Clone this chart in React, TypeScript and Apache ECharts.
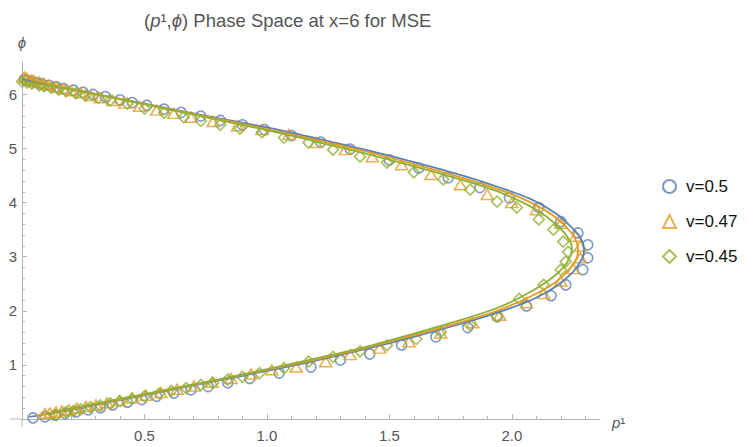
import React, { useEffect, useRef } from 'react';
import * as echarts from 'echarts';

const seriesNames = ['v=0.5', 'v=0.47', 'v=0.45'];
const seriesColors = ['#5E81B5', '#E19C24', '#8FB032'];
const seriesSymbols = ['circle', 'triangle', 'diamond'];

// solid curves (p1, phi)
const blueCurve: [number, number][] = [[0.03,0.04],[0.2,0.17],[0.4,0.35],[0.6,0.53],[0.8,0.71],[1.0,0.89],[1.2,1.08],[1.4,1.29],[1.6,1.52],[1.8,1.77],[1.95,1.98],[2.08,2.2],[2.18,2.45],[2.25,2.72],[2.285,2.95],[2.295,3.12],[2.28,3.35],[2.24,3.56],[2.18,3.8],[2.08,4.06],[1.95,4.28],[1.8,4.5],[1.6,4.75],[1.4,4.98],[1.2,5.19],[1.0,5.39],[0.8,5.56],[0.6,5.74],[0.4,5.92],[0.2,6.1],[0.0,6.28]];
const orangeCurve: [number, number][] = [[0.06,0.06],[0.2,0.18],[0.4,0.36],[0.6,0.54],[0.8,0.72],[1.0,0.91],[1.2,1.1],[1.4,1.31],[1.6,1.55],[1.8,1.8],[1.95,2.02],[2.07,2.25],[2.17,2.5],[2.235,2.77],[2.265,2.98],[2.27,3.14],[2.255,3.36],[2.215,3.58],[2.15,3.82],[2.05,4.06],[1.93,4.27],[1.78,4.48],[1.6,4.71],[1.4,4.95],[1.2,5.16],[1.0,5.36],[0.8,5.55],[0.6,5.73],[0.4,5.92],[0.2,6.1],[0.02,6.3]];
const greenCurve: [number, number][] = [[0.1,0.1],[0.2,0.19],[0.4,0.37],[0.6,0.55],[0.8,0.73],[1.0,0.92],[1.2,1.12],[1.4,1.33],[1.6,1.58],[1.8,1.84],[1.95,2.07],[2.06,2.31],[2.15,2.56],[2.21,2.8],[2.24,3.02],[2.245,3.17],[2.225,3.38],[2.18,3.6],[2.11,3.84],[2.01,4.08],[1.89,4.29],[1.75,4.48],[1.6,4.67],[1.4,4.91],[1.2,5.13],[1.0,5.34],[0.8,5.53],[0.6,5.72],[0.4,5.91],[0.2,6.09],[0.0,6.25]];

// sampled markers (p1, phi)
const blueMarkers: [number, number][] = [[0.045,0.02],[0.094,0.04],[0.135,0.07],[0.176,0.10],[0.22,0.13],[0.27,0.17],[0.32,0.21],[0.37,0.26],[0.43,0.31],[0.49,0.36],[0.55,0.42],[0.62,0.48],[0.69,0.54],[0.76,0.60],[0.84,0.67],[0.93,0.75],[1.05,0.85],[1.18,0.96],[1.30,1.09],[1.42,1.20],[1.55,1.37],[1.69,1.52],[1.82,1.69],[1.94,1.89],[2.06,2.09],[2.16,2.28],[2.22,2.48],[2.29,2.76],[2.31,2.98],[2.31,3.22],[2.27,3.44],[2.20,3.65],[2.11,3.91],[1.99,4.09],[1.87,4.28],[1.74,4.46],[1.62,4.64],[1.50,4.79],[1.34,4.99],[1.22,5.12],[1.10,5.24],[0.99,5.35],[0.90,5.44],[0.81,5.52],[0.73,5.60],[0.65,5.67],[0.58,5.73],[0.51,5.80],[0.45,5.85],[0.40,5.90],[0.34,5.96],[0.29,6.00],[0.25,6.04],[0.21,6.08],[0.17,6.11],[0.14,6.14],[0.11,6.17],[0.08,6.20],[0.06,6.22],[0.04,6.24],[0.02,6.26],[0.01,6.28]];
const orangeMarkers: [number, number][] = [[0.094,0.10],[0.114,0.11],[0.139,0.13],[0.163,0.15],[0.192,0.17],[0.224,0.20],[0.261,0.23],[0.302,0.26],[0.347,0.30],[0.396,0.34],[0.449,0.39],[0.506,0.44],[0.567,0.49],[0.633,0.55],[0.702,0.61],[0.776,0.68],[0.853,0.75],[0.935,0.83],[1.02,0.91],[1.12,0.96],[1.24,1.06],[1.34,1.19],[1.46,1.31],[1.58,1.43],[1.71,1.59],[1.84,1.78],[1.95,1.92],[2.06,2.15],[2.13,2.32],[2.20,2.55],[2.25,2.78],[2.28,2.98],[2.28,3.2],[2.26,3.38],[2.20,3.62],[2.10,3.87],[2.00,4.0],[1.90,4.15],[1.79,4.33],[1.67,4.52],[1.55,4.70],[1.43,4.85],[1.32,4.98],[1.20,5.11],[1.09,5.26],[0.98,5.35],[0.88,5.42],[0.78,5.50],[0.69,5.58],[0.62,5.65],[0.55,5.71],[0.48,5.78],[0.42,5.84],[0.37,5.89],[0.32,5.94],[0.28,5.98],[0.24,6.03],[0.20,6.07],[0.17,6.10],[0.14,6.14],[0.11,6.17],[0.09,6.20],[0.07,6.23],[0.05,6.25],[0.04,6.27],[0.02,6.30],[0.01,6.32]];
const greenMarkers: [number, number][] = [[0.14,0.07],[0.18,0.13],[0.21,0.15],[0.24,0.18],[0.28,0.22],[0.32,0.25],[0.36,0.29],[0.40,0.33],[0.45,0.37],[0.50,0.42],[0.56,0.47],[0.61,0.52],[0.67,0.57],[0.73,0.63],[0.78,0.67],[0.84,0.73],[0.90,0.78],[0.97,0.85],[1.07,0.94],[1.17,1.06],[1.27,1.15],[1.38,1.25],[1.49,1.36],[1.61,1.48],[1.71,1.61],[1.83,1.74],[1.94,1.90],[2.03,2.22],[2.13,2.48],[2.20,2.76],[2.22,2.91],[2.23,3.09],[2.21,3.28],[2.17,3.5],[2.11,3.69],[2.02,3.91],[1.94,4.02],[1.83,4.24],[1.72,4.43],[1.60,4.56],[1.49,4.74],[1.38,4.85],[1.27,4.98],[1.17,5.11],[1.07,5.20],[0.98,5.30],[0.89,5.37],[0.81,5.44],[0.73,5.51],[0.66,5.58],[0.58,5.66],[0.50,5.74],[0.43,5.83],[0.36,5.89],[0.31,5.94],[0.26,5.98],[0.22,6.02],[0.18,6.06],[0.15,6.09],[0.12,6.12],[0.09,6.15],[0.07,6.17],[0.04,6.20],[0.02,6.22],[0.00,6.24]];

const xTickValues = [0, 0.5, 1, 1.5, 2];
const xLabelValues = [0.5, 1, 1.5, 2];
const yTickValues = [0, 1, 2, 3, 4, 5, 6];
const yLabelValues = [1, 2, 3, 4, 5, 6];

const curves = [blueCurve, orangeCurve, greenCurve];
const markers = [blueMarkers, orangeMarkers, greenMarkers];

export default function App() {
  const ref = useRef<HTMLDivElement>(null);
  useEffect(() => {
    if (!ref.current) return;
    const chart = echarts.init(ref.current, null, { renderer: 'svg' });
    const font = '"Liberation Sans", Arial, sans-serif';
    const axisColor = '#b4b4b4';
    const labelColor = '#555555';
    const symbolSizes: any[] = [10, [12, 10], 11];
    const gridLeft = 22;
    const gridBottom = 28;
    const W = 756;
    const H = 447;

    const lineSeries = curves.map((c, i) => ({
      type: 'line',
      name: seriesNames[i] + ' curve',
      data: c,
      smooth: 0.3,
      showSymbol: false,
      silent: true,
      clip: false,
      z: 3,
      lineStyle: { color: seriesColors[i], width: 1.8 },
      itemStyle: { color: seriesColors[i] },
    }));
    const scatterSeries = markers.map((m, i) => ({
      type: 'scatter',
      name: seriesNames[i],
      data: m,
      symbol: seriesSymbols[i],
      symbolSize: symbolSizes[i],
      clip: false,
      z: 2,
      itemStyle: { color: 'rgba(255,255,255,0)', borderColor: seriesColors[i], borderWidth: 1.6 },
    }));

    const option: any = {
      animation: false,
      textStyle: { fontFamily: font },
      title: {
        text: '({i|p}¹,{i|ϕ}) Phase Space at x=6 for MSE',
        left: 139,
        top: 6,
        textStyle: {
          fontSize: 18.5,
          fontWeight: 'normal',
          color: '#555555',
          fontFamily: font,
          rich: { i: { fontStyle: 'italic', fontSize: 18.5, color: '#555555', fontFamily: font } },
        },
      },
      legend: {
        data: seriesNames,
        orient: 'vertical',
        left: 657,
        top: 173,
        itemWidth: 13,
        itemHeight: 13,
        itemGap: 18,
        textStyle: { fontSize: 17, color: '#111111', fontFamily: font, padding: [0, 0, 0, 5] },
      },
      grid: { left: gridLeft, right: 156, top: 62, bottom: gridBottom, containLabel: false, outerBoundsMode: 'none' },
      graphic: [
        { type: 'line', silent: true, shape: { x1: 10, y1: H - gridBottom, x2: gridLeft, y2: H - gridBottom }, style: { stroke: axisColor, lineWidth: 1 } },
        { type: 'line', silent: true, shape: { x1: gridLeft, y1: H - gridBottom, x2: gridLeft, y2: H - gridBottom + 8 }, style: { stroke: axisColor, lineWidth: 1 } },
      ],
      xAxis: {
        type: 'value',
        min: 0,
        max: 2.36,
        splitNumber: 5,
        splitLine: { show: false },
        axisLine: { show: true, onZero: false, lineStyle: { color: axisColor, width: 1 } },
        axisTick: { show: true, inside: true, length: 5, customValues: xTickValues, lineStyle: { color: axisColor } },
        minorTick: { show: true, splitNumber: 5, length: 3, lineStyle: { color: axisColor } },
        axisLabel: {
          show: true,
          customValues: xLabelValues,
          formatter: (v: number) => v.toFixed(1),
          color: labelColor,
          fontSize: 15,
          margin: 9,
          fontFamily: font,
        },
        name: '{i|p}¹',
        nameLocation: 'end',
        nameGap: 12,
        nameTextStyle: {
          color: labelColor,
          fontSize: 15,
          fontFamily: font,
          verticalAlign: 'top',
          padding: [-4, 0, 0, 0],
          rich: { i: { fontStyle: 'italic', fontSize: 15, color: labelColor, fontFamily: font } },
        },
      },
      yAxis: {
        type: 'value',
        min: 0,
        max: 6.6,
        splitNumber: 6,
        splitLine: { show: false },
        axisLine: { show: true, onZero: false, lineStyle: { color: axisColor, width: 1 } },
        axisTick: { show: true, inside: true, length: 5, customValues: yTickValues, lineStyle: { color: axisColor } },
        minorTick: { show: true, splitNumber: 5, length: 3, lineStyle: { color: axisColor } },
        axisLabel: {
          show: true,
          customValues: yLabelValues,
          formatter: (v: number) => String(v),
          color: labelColor,
          fontSize: 15,
          margin: 5,
          fontFamily: font,
        },
        name: '{i|ϕ}',
        nameLocation: 'end',
        nameGap: 12,
        nameTextStyle: {
          color: labelColor,
          fontSize: 15,
          fontFamily: font,
          rich: { i: { fontStyle: 'italic', fontSize: 15, color: labelColor, fontFamily: font } },
        },
      },
      series: [...scatterSeries, ...lineSeries],
    };
    chart.setOption(option);
    return () => chart.dispose();
  }, []);
  return (
    <div
      ref={ref}
      style={{ position: 'fixed', left: 0, top: 0, width: 756, height: 447, background: '#ffffff' }}
    />
  );
}
